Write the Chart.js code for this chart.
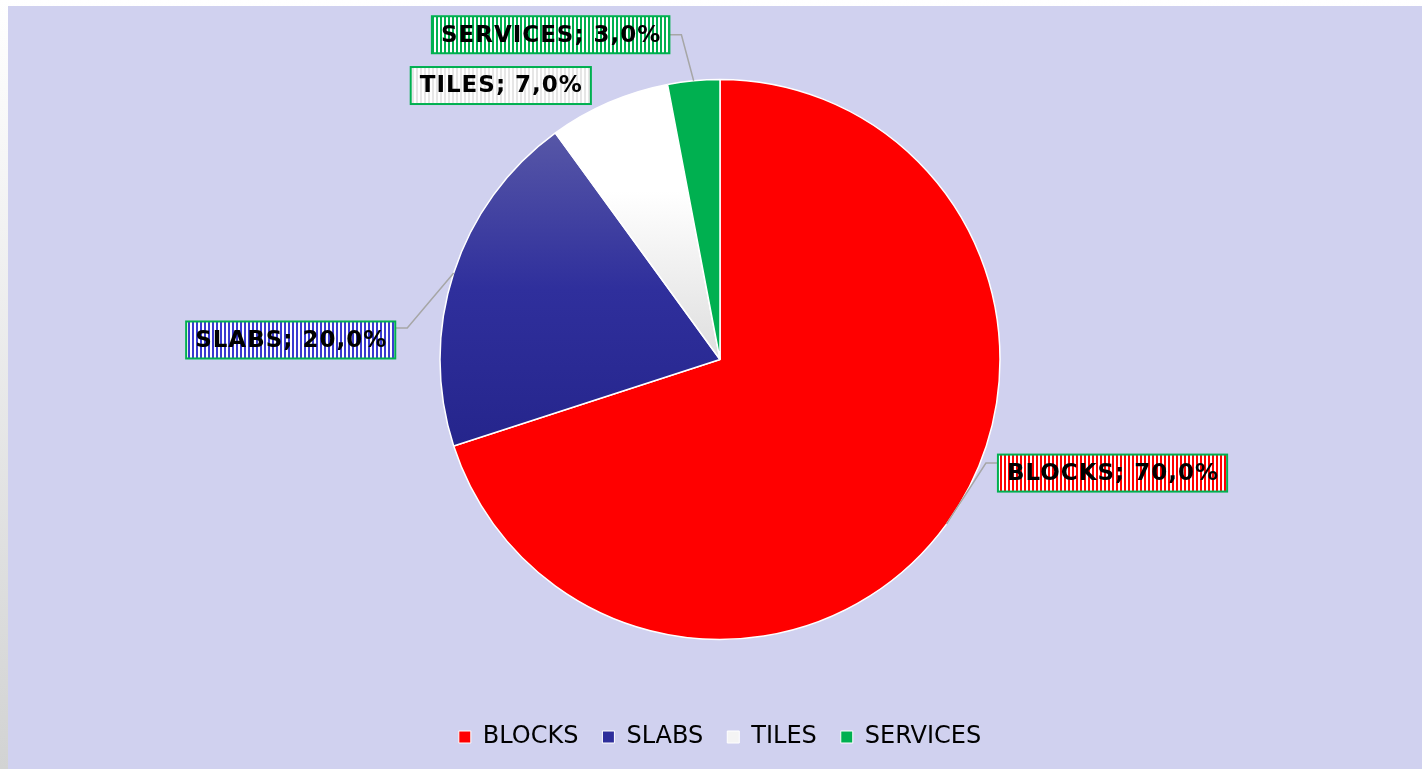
<!DOCTYPE html>
<html>
<head>
<meta charset="utf-8">
<script src="https://cdn.jsdelivr.net/npm/chart.js@4/dist/chart.umd.min.js"></script>
<style>
  html, body { margin: 0; padding: 0; }
  body {
    width: 1422px; height: 769px; overflow: hidden;
    background: linear-gradient(#ffffff, #d2d3d3);
  }
  #caja {
    position: absolute; left: 8px; top: 6px;
    width: 1414px; height: 763px;
    background: #d0d1ef;
  }
</style>
</head>
<body>
<div id="caja"><canvas id="grafico" width="1414" height="763"></canvas></div>
<script>
// datos del grafico
const categorias = ['BLOCKS', 'SLABS', 'TILES', 'SERVICES'];
const valores = [70, 20, 7, 3];

// colores de las porciones
const colorBase = ['#ff0000', '#2e2e9b', '#f4f4f4', '#00b050'];
const colorRaya = ['#ff0000', '#3a3ad0', '#e6e6e6', '#00b050'];

// posicion de las etiquetas: centro de la caja respecto al borde del sector
const etiquetaDx = [166, -163, -108, -143];
const etiquetaDy = [-51, 67, -17, -46];
const lineaY = [-10, -12, null, 0]; // codo de la linea guia respecto al centro de la caja

const fuente = '"DejaVu Sans", Verdana, sans-serif';

function rayas(color) {
  const c = document.createElement('canvas');
  c.width = 4; c.height = 4;
  const g = c.getContext('2d');
  g.fillStyle = '#ffffff';
  g.fillRect(0, 0, 4, 4);
  g.fillStyle = color;
  g.fillRect(0, 0, 2, 4);
  return c;
}

function relleno(ctx) {
  const chart = ctx.chart;
  const i = ctx.dataIndex;
  const area = chart.chartArea;
  if (!area) return colorBase[i];
  const cy = (area.top + area.bottom) / 2;
  const r = 280;
  const c = chart.ctx;
  if (i === 1) {
    const g = c.createLinearGradient(0, cy - r * 0.81, 0, cy + r * 0.31);
    g.addColorStop(0, '#5757a7');
    g.addColorStop(0.5, '#2f2f9c');
    g.addColorStop(1, '#25258c');
    return g;
  }
  if (i === 2) {
    const g = c.createLinearGradient(0, cy - r, 0, cy);
    g.addColorStop(0, '#ffffff');
    g.addColorStop(0.4, '#ffffff');
    g.addColorStop(1, '#dedede');
    return g;
  }
  return colorBase[i];
}

const etiquetas = {
  id: 'etiquetas',
  afterDatasetsDraw(chart) {
    const c = chart.ctx;
    const meta = chart.getDatasetMeta(0);
    const total = valores.reduce((a, b) => a + b, 0);
    c.save();
    c.font = 'bold 23px ' + fuente;
    c.letterSpacing = '1px';
    c.textBaseline = 'middle';
    c.textAlign = 'left';
    meta.data.forEach((arco, i) => {
      const mid = (arco.startAngle + arco.endAngle) / 2;
      const ex = arco.x + arco.outerRadius * Math.cos(mid);
      const ey = arco.y + arco.outerRadius * Math.sin(mid);
      const texto = categorias[i] + '; ' + (valores[i] / total * 100).toFixed(1).replace('.', ',') + '%';
      const tw = c.measureText(texto).width - 1;
      const w = tw + 18;
      const h = 37;
      const cx = ex + etiquetaDx[i];
      const cy = ey + etiquetaDy[i];
      const x0 = cx - w / 2, y0 = cy - h / 2;

      // linea guia
      if (lineaY[i] !== null) {
        const derecha = etiquetaDx[i] > 0;
        const bordeX = derecha ? x0 : x0 + w;
        const codoX = derecha ? bordeX - 12 : bordeX + 12;
        const codoY = cy + lineaY[i];
        c.strokeStyle = '#a6a6a6';
        c.lineWidth = 1.5;
        c.beginPath();
        c.moveTo(ex, ey);
        c.lineTo(codoX, codoY);
        c.lineTo(bordeX, codoY);
        c.stroke();
      }

      // caja con rayas
      c.fillStyle = c.createPattern(rayas(colorRaya[i]), 'repeat');
      c.fillRect(x0, y0, w, h);
      c.strokeStyle = '#00b050';
      c.lineWidth = 2;
      c.strokeRect(x0, y0, w, h);
      c.fillStyle = '#000000';
      c.fillText(texto, x0 + 9, cy + 1);
    });
    c.restore();
  }
};

const ctx = document.getElementById('grafico');
const grafico = new Chart(ctx, {
  type: 'pie',
  data: {
    labels: categorias,
    datasets: [{
      data: valores,
      backgroundColor: relleno,
      borderColor: '#ffffff',
      borderWidth: 1.5,
      radius: 280
    }]
  },
  options: {
    responsive: false,
    animation: false,
    layout: {
      padding: { top: 12, bottom: 10, left: 10, right: 0 }
    },
    plugins: {
      tooltip: { enabled: false },
      legend: {
        position: 'bottom',
        labels: {
          color: '#000000',
          font: { family: fuente, size: 24 },
          boxWidth: 12,
          boxHeight: 12,
          padding: 24,
          generateLabels(chart) {
            return categorias.map((nombre, i) => ({
              text: nombre,
              fillStyle: colorBase[i],
              strokeStyle: '#ffffff',
              lineWidth: 1,
              fontColor: '#000000',
              hidden: false,
              index: i
            }));
          }
        }
      }
    }
  },
  plugins: [etiquetas]
});
</script>
</body>
</html>
